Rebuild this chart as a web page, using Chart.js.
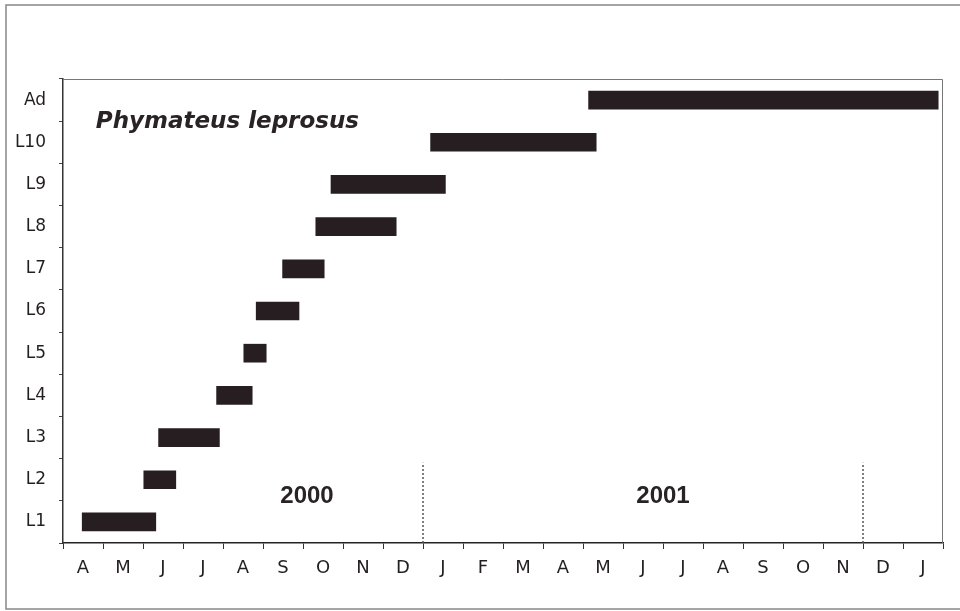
<!DOCTYPE html>
<html><head><meta charset="utf-8">
<script src="https://cdn.jsdelivr.net/npm/chart.js@4"></script>
<style>html,body{margin:0;padding:0;background:#fff}#wrap{width:960px;height:611px;position:relative}</style>
</head><body><div id="wrap"><canvas id="c"></canvas></div>
<script>
const stages = ['L1','L2','L3','L4','L5','L6','L7','L8','L9','L10','Ad'];
// months elapsed since 1 April 2000
const stageStart = [0.48, 2.02, 2.39, 3.84, 4.52, 4.83, 5.49, 6.32, 6.70, 9.19, 13.14];
const stageEnd   = [2.32, 2.82, 3.91, 4.73, 5.08, 5.90, 6.53, 8.33, 9.56, 13.33, 21.88];
const months = ['A','M','J','J','A','S','O','N','D','J','F','M','A','M','J','J','A','S','O','N','D','J'];
const yearLabels = ['2000','2001'];
const yearLabelPos = [6.1, 15.0];
const yearBoundaries = [9, 20];
const speciesName = 'Phymateus leprosus';

const decor = {
  id: 'decor',
  beforeDraw(chart) {
    const ctx = chart.ctx;
    ctx.save();
    ctx.fillStyle = '#fff';
    ctx.fillRect(0, 0, chart.width, chart.height);
    ctx.strokeStyle = '#888';
    ctx.lineWidth = 1.5;
    ctx.strokeRect(6, 5, 960, 604);
    ctx.restore();
  },
  afterDatasetsDraw(chart) {
    const {ctx, chartArea: a, scales: {x, y}} = chart;
    const cat = (a.bottom - a.top) / stages.length;
    ctx.save();
    ctx.strokeStyle = '#777';
    ctx.lineWidth = 1;
    ctx.beginPath();
    ctx.moveTo(a.left, a.top + 0.5);
    ctx.lineTo(a.right - 0.5, a.top + 0.5);
    ctx.lineTo(a.right - 0.5, a.bottom);
    ctx.stroke();
    ctx.setLineDash([2, 2]);
    ctx.strokeStyle = '#555';
    ctx.lineWidth = 1.5;
    yearBoundaries.forEach(v => {
      const px = x.getPixelForValue(v);
      ctx.beginPath();
      ctx.moveTo(px, a.bottom);
      ctx.lineTo(px, a.bottom - 1.9 * cat);
      ctx.stroke();
    });
    ctx.setLineDash([]);
    ctx.fillStyle = '#2a2325';
    ctx.font = 'bold 24px "Liberation Sans"';
    ctx.textAlign = 'center';
    ctx.textBaseline = 'middle';
    yearLabels.forEach((t, i) => ctx.fillText(t, x.getPixelForValue(yearLabelPos[i]), a.bottom - 1.11 * cat));
    ctx.font = 'italic bold 23px "DejaVu Sans"';
    ctx.textAlign = 'left';
    ctx.fillText(speciesName, x.getPixelForValue(0.82), y.getPixelForValue(10) + 22);
    ctx.restore();
  }
};

new Chart(document.getElementById('c'), {
  type: 'bar',
  data: {
    labels: stages,
    datasets: [{
      data: stages.map((s, i) => [stageStart[i], stageEnd[i]]),
      backgroundColor: '#261e20',
      borderWidth: 0,
      barThickness: 18,
      xAxisID: 'x',
      yAxisID: 'y'
    }]
  },
  options: {
    indexAxis: 'y',
    responsive: true,
    maintainAspectRatio: false,
    animation: false,
    layout: {padding: {top: 79, right: 17, left: 0, bottom: 0}},
    plugins: {legend: {display: false}, tooltip: {enabled: false}},
    scales: {
      x: {type: 'linear', min: 0, max: 22, display: false},
      xm: {
        type: 'category', labels: months, position: 'bottom', offset: true,
        grid: {offset: true, drawOnChartArea: false, drawTicks: true, tickLength: 6, color: '#333'},
        border: {display: true, color: '#222', width: 1.5},
        ticks: {color: '#231f20', font: {family: 'DejaVu Sans', size: 18}, padding: 9, autoSkip: false, maxRotation: 0},
        afterFit(s) { s.height = 68; }
      },
      y: {
        type: 'category', labels: stages, reverse: true, offset: true,
        grid: {offset: true, drawOnChartArea: false, drawTicks: true, tickLength: 4, color: '#444'},
        border: {display: true, color: '#333', width: 1.5},
        ticks: {color: '#231f20', font: {family: 'DejaVu Sans', size: 17}, padding: 13},
        afterFit(s) { s.width = 63; }
      }
    }
  },
  plugins: [decor]
});
</script>
</body></html>
